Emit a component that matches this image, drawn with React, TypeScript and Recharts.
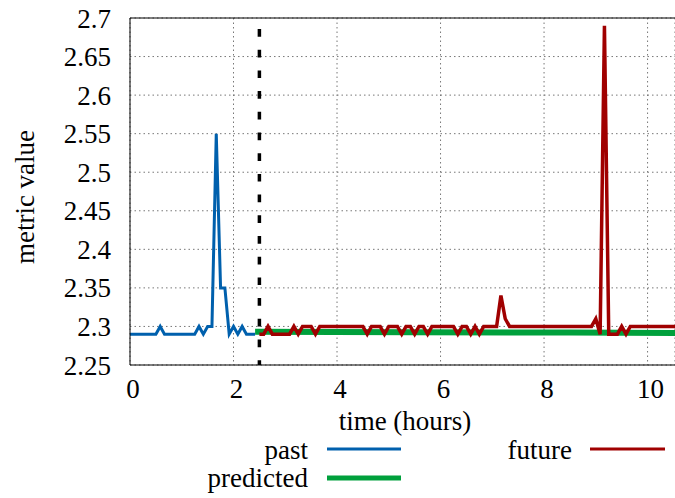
import { CartesianGrid, Line, LineChart, ReferenceLine, XAxis, YAxis } from "recharts";

// samples every 5 minutes
const STEP_HOURS = 1 / 12;

const pastValues = [
  2.29, 2.29, 2.29, 2.29, 2.29, 2.29, 2.29, 2.3, 2.29, 2.29,
  2.29, 2.29, 2.29, 2.29, 2.29, 2.29, 2.3, 2.29, 2.3, 2.3,
  2.55, 2.35, 2.35, 2.29, 2.3, 2.29, 2.3, 2.29, 2.29, 2.29,
];

const futureStartIndex = 30;
const futureValues = [
  2.29, 2.29, 2.3, 2.29, 2.29, 2.29, 2.29, 2.29, 2.3, 2.29,
  2.3, 2.3, 2.3, 2.29, 2.3, 2.3, 2.3, 2.3, 2.3, 2.3,
  2.3, 2.3, 2.3, 2.3, 2.3, 2.29, 2.3, 2.3, 2.3, 2.29,
  2.3, 2.3, 2.3, 2.29, 2.3, 2.3, 2.29, 2.3, 2.3, 2.29,
  2.3, 2.3, 2.3, 2.3, 2.3, 2.3, 2.29, 2.3, 2.3, 2.29,
  2.3, 2.29, 2.3, 2.3, 2.3, 2.3, 2.34, 2.31, 2.3, 2.3,
  2.3, 2.3, 2.3, 2.3, 2.3, 2.3, 2.3, 2.3, 2.3, 2.3,
  2.3, 2.3, 2.3, 2.3, 2.3, 2.3, 2.3, 2.3, 2.31, 2.29,
  2.69, 2.29, 2.29, 2.29, 2.3, 2.29, 2.3, 2.3, 2.3, 2.3,
  2.3, 2.3, 2.3, 2.3, 2.3, 2.3, 2.3, 2.3,
];

const predictedTimes = [2.417, 5.5, 8.5, 10.6];
const predictedValues = [2.293, 2.2925, 2.292, 2.2915];

const splitTime = 2.5;
const xTicks = [0, 2, 4, 6, 8, 10];
const yTicks = [2.25, 2.3, 2.35, 2.4, 2.45, 2.5, 2.55, 2.6, 2.65, 2.7];

const pastData = pastValues.map((v, i) => ({ t: i * STEP_HOURS, v }));
const futureData = futureValues.map((v, i) => ({ t: (futureStartIndex + i) * STEP_HOURS, v }));
const predictedData = predictedTimes.map((t, i) => ({ t, v: predictedValues[i] }));

const FONT = "Liberation Serif";
const BLUE = "#0060ad";
const RED = "#a00000";
const GREEN = "#00a03c";

const Overlay = () => (
  <svg
    width={675}
    height={498}
    style={{ position: "absolute", left: 0, top: 0, pointerEvents: "none", fontFamily: FONT, fontSize: 27 }}
  >
    <text x={405} y={430} textAnchor="middle">time (hours)</text>
    <text transform="translate(34,197) rotate(-90)" textAnchor="middle">metric value</text>

    <text x={308} y={459} textAnchor="end">past</text>
    <line x1={327} x2={401} y1={449} y2={449} stroke={BLUE} strokeWidth={3} />
    <text x={308} y={487} textAnchor="end">predicted</text>
    <line x1={327} x2={401} y1={478} y2={478} stroke={GREEN} strokeWidth={5} />
    <text x={572} y={459} textAnchor="end">future</text>
    <line x1={590} x2={665} y1={449} y2={449} stroke={RED} strokeWidth={3} />
  </svg>
);

export default function App() {
  return (
    <div style={{ position: "absolute", left: 0, top: 0, width: 675, height: 498, fontFamily: FONT }}>
      <style>{`.recharts-wrapper text, .recharts-text { font-family: "Liberation Serif", serif !important; }`}</style>
      <LineChart width={675} height={498} margin={{ top: 18, right: 0, left: 0, bottom: 93 }}>
        <CartesianGrid stroke="#777" strokeDasharray="1.5 3" />
        <XAxis
          type="number"
          dataKey="t"
          domain={[0, 10.53]}
          allowDataOverflow
          ticks={xTicks}
          height={40}
          tickLine={false}
          tickSize={0}
          tickMargin={14}
          axisLine={{ stroke: "#000", strokeWidth: 1 }}
          tick={{ fill: "#000", fontSize: 27, dx: 3 }}
        />
        <YAxis
          type="number"
          domain={[2.25, 2.7]}
          allowDataOverflow
          ticks={yTicks}
          width={130}
          tickLine={false}
          tickSize={0}
          tickMargin={19}
          axisLine={{ stroke: "#000", strokeWidth: 1 }}
          tick={{ fill: "#000", fontSize: 27 }}
          tickFormatter={(v: number) => String(Number(v.toFixed(2)))}
        />
        <ReferenceLine y={2.7} stroke="#000" strokeWidth={1} />
        <Line
          data={predictedData}
          dataKey="v"
          type="linear"
          stroke={GREEN}
          strokeWidth={6}
          dot={false}
          isAnimationActive={false}
        />
        <Line
          data={pastData}
          dataKey="v"
          type="linear"
          stroke={BLUE}
          strokeWidth={3}
          dot={false}
          isAnimationActive={false}
        />
        <Line
          data={futureData}
          dataKey="v"
          type="linear"
          stroke={RED}
          strokeWidth={3.5}
          dot={false}
          isAnimationActive={false}
        />
        <ReferenceLine
          segment={[{ x: splitTime, y: 2.7 }, { x: splitTime, y: 2.25 }]}
          stroke="#000"
          strokeWidth={3.5}
          strokeDasharray="7.7 13"
          strokeDashoffset={9.7}
        />
      </LineChart>
      <Overlay />
    </div>
  );
}
